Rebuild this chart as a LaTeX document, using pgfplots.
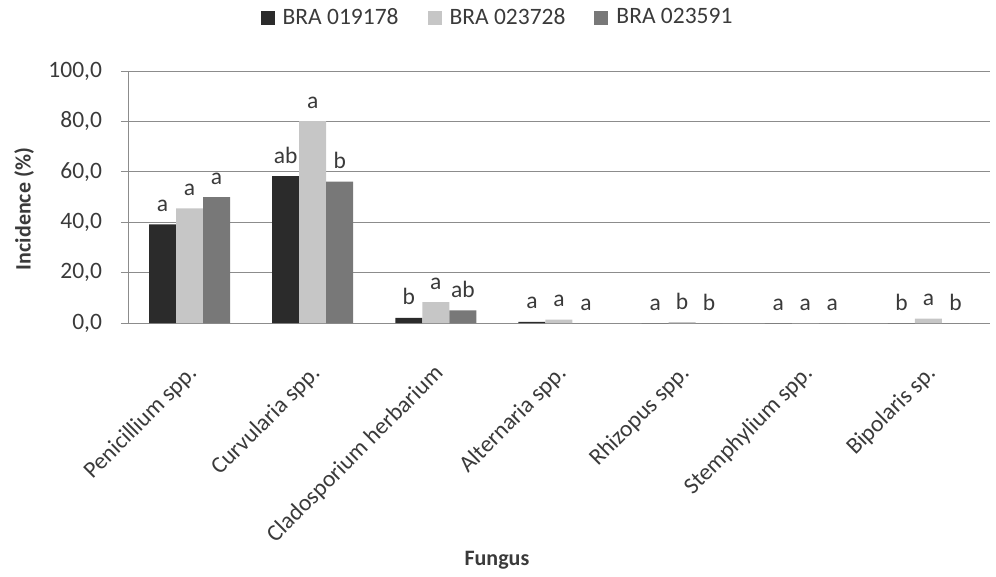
\documentclass[border=0pt]{standalone}
\usepackage{pgfplots}
\pgfplotsset{compat=1.18}
\usepackage{fontspec}
\setmainfont{Carlito}
\definecolor{txt}{HTML}{3A3A3A}
\definecolor{cA}{HTML}{2B2B2B}
\definecolor{cB}{HTML}{C6C6C6}
\definecolor{cC}{HTML}{787878}
\definecolor{gridc}{HTML}{8C8C8C}
\newcommand{\bigf}{\fontsize{23.5}{28}\selectfont}
\newcommand{\labf}{\fontsize{22}{26}\selectfont\bfseries}
\begin{document}
\bigf
\begin{tikzpicture}[x=1pt,y=1pt,every node/.append style={font=\bigf}]
\path[use as bounding box] (-128,-253) rectangle (868,323);
\begin{axis}[
  at={(0,0)}, anchor=south west, scale only axis,
  width=862pt, height=252pt,
  ybar=0pt, bar width=27pt,
  xmin=-0.5, xmax=6.5, ymin=0, ymax=100,
  xtick={0,...,6},
  xticklabels={Penicillium spp., Curvularia spp., Cladosporium herbarium, Alternaria spp., Rhizopus spp., Stemphylium spp., Bipolaris sp.},
  x tick style={draw=none},
  extra x ticks={-0.5,0.5,...,6.5}, extra x tick labels={},
  extra x tick style={grid=none, tick style={draw=gridc, line width=0.8pt}, major tick length=7pt},
  ytick={0,20,...,100},
  y tick style={draw=gridc, line width=0.8pt},
  major tick length=7pt,
  tick align=outside,
  ymajorgrids, major grid style={gridc, line width=0.9pt},
  axis x line*=bottom, axis y line*=left,
  axis line style={gridc, line width=0.9pt, -},
  every tick label/.append style={text=txt, font=\bigf},
  yticklabel style={xshift=-11pt, /pgf/number format/.cd, fixed, fixed zerofill, precision=1, use comma, assume math mode=true},
  xticklabel style={xshift=4pt, yshift=-40pt, rotate=45, anchor=east, inner sep=0pt},
  ylabel={Incidence (\%)},
  ylabel style={at={(axis description cs:-0.1206,0.452)}, anchor=center, text=txt, font=\labf},
  xlabel={Fungus},
  xlabel style={at={(axis description cs:0.428,-0.94)}, anchor=center, text=txt, font=\labf},
  legend style={at={(0.4287,1.21)}, anchor=center, draw=none, fill=none, text=txt, font=\fontsize{24}{28}\selectfont,
    legend columns=3, /tikz/every even column/.append style={column sep=27pt}},
  legend image code/.code={\fill[#1] (0pt,-7pt) rectangle (14pt,7pt); \path (20pt,0pt);},
  nodes near coords, point meta=explicit symbolic,
  every node near coord/.append style={anchor=base, yshift=13pt, text=txt, font=\bigf},
]
\addplot[fill=cA, draw=none] table[x=x, y=y, meta=l] {
x y l
0 39.1 a
1 58.3 ab
2 2.0 b
3 0.4 a
4 0 a
5 0 a
6 0 b
};
\addplot[fill=cB, draw=none] table[x=x, y=y, meta=l] {
x y l
0 45.5 a
1 80.1 a
2 8.3 a
3 1.3 a
4 0.3 b
5 0 a
6 1.7 a
};
\addplot[fill=cC, draw=none] table[x=x, y=y, meta=l] {
x y l
0 50.0 a
1 56.1 b
2 5.0 ab
3 0 a
4 0 b
5 0 a
6 0 b
};
\legend{BRA 019178, BRA 023728, BRA 023591}
\end{axis}
\end{tikzpicture}
\end{document}
